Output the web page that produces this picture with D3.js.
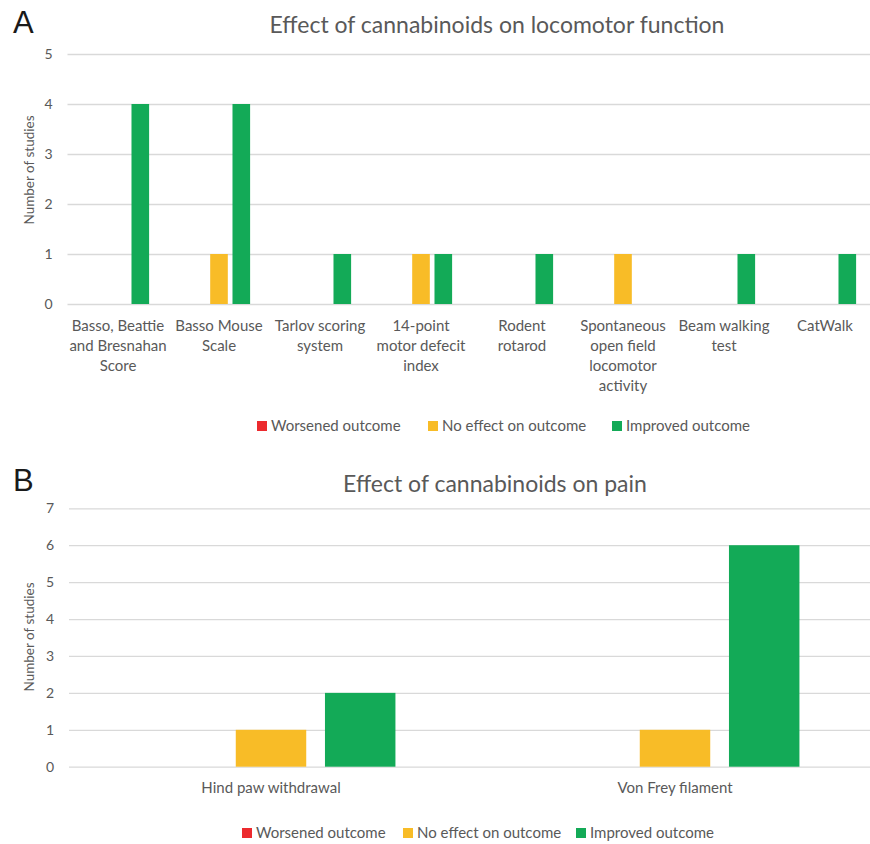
<!DOCTYPE html>
<html>
<head>
<meta charset="utf-8">
<script src="https://cdn.jsdelivr.net/npm/d3@7/dist/d3.min.js"></script>
<style>
  html, body { margin: 0; padding: 0; background: #fff; }
  svg { display: block; }
  .txt { font-family: Lato, "Open Sans", sans-serif; fill: #595959; }
</style>
</head>
<body>
<svg id="fig" width="870" height="844"></svg>
<script>
// Outcome series shared by both panels
const seriesNames = ["Worsened outcome", "No effect on outcome", "Improved outcome"];
const seriesColors = ["#EC2A2E", "#F8BC27", "#13AA57"];

// Panel A: locomotor function
const locoCategories = [
  "Basso, Beattie and Bresnahan Score", "Basso Mouse Scale", "Tarlov scoring system",
  "14-point motor defecit index", "Rodent rotarod",
  "Spontaneous open field locomotor activity", "Beam walking test", "CatWalk"
];
const locoTickLines = [
  ["Basso, Beattie", "and Bresnahan", "Score"], ["Basso Mouse", "Scale"],
  ["Tarlov scoring", "system"], ["14-point", "motor defecit", "index"],
  ["Rodent", "rotarod"], ["Spontaneous", "open field", "locomotor", "activity"],
  ["Beam walking", "test"], ["CatWalk"]
];
const locoWorsened = [0, 0, 0, 0, 0, 0, 0, 0];
const locoNoEffect = [0, 1, 0, 1, 0, 1, 0, 0];
const locoImproved = [4, 4, 1, 1, 1, 0, 1, 1];
const locoYTicks = [0, 1, 2, 3, 4, 5];

// Panel B: pain
const painCategories = ["Hind paw withdrawal", "Von Frey filament"];
const painTickLines = [["Hind paw withdrawal"], ["Von Frey filament"]];
const painWorsened = [0, 0];
const painNoEffect = [1, 1];
const painImproved = [2, 6];
const painYTicks = [0, 1, 2, 3, 4, 5, 6, 7];

const svg = d3.select("#fig");

function panel(cfg) {
  const g = svg.append("g");
  const x = d3.scaleBand().domain(cfg.categories).range([cfg.left, cfg.right])
    .paddingInner(0.384).paddingOuter(0.192);
  const xs = d3.scaleBand().domain(seriesNames).range([0, x.bandwidth()])
    .paddingInner(0.21).paddingOuter(0);
  const y = d3.scaleLinear().domain([0, cfg.yMax]).range([cfg.bottom, cfg.top]);

  // panel letter
  g.append("text").attr("x", cfg.letterX).attr("y", cfg.letterY)
    .style("font-family", "'Liberation Sans', Arial, sans-serif")
    .style("font-size", "31px").style("fill", "#1a1a1a").text(cfg.letter);

  // title
  g.append("text").attr("class", "txt").attr("x", cfg.titleX).attr("y", cfg.titleY)
    .attr("text-anchor", "middle").style("font-size", "23px").text(cfg.title);

  // gridlines + y labels
  const yAxis = d3.axisLeft(y).tickValues(cfg.yTicks).tickSize(-(cfg.right - cfg.left))
    .tickPadding(15).tickFormat(d3.format("d"));
  const ya = g.append("g").attr("transform", `translate(${cfg.left},0)`).call(yAxis);
  ya.select(".domain").remove();
  ya.selectAll(".tick line").attr("stroke", "#d9d9d9").attr("stroke-width", 1.3);
  ya.selectAll(".tick text").attr("class", "txt").style("font-size", "14px").attr("font-family", null);

  // y title
  g.append("text").attr("class", "txt")
    .attr("transform", `translate(${cfg.yTitleX},${cfg.yTitleY}) rotate(-90)`)
    .attr("text-anchor", "middle").style("font-size", "13.5px").text("Number of studies");

  // bars
  const rows = cfg.categories.map((c, i) => ({
    cat: c, vals: [cfg.worsened[i], cfg.noEffect[i], cfg.improved[i]]
  }));
  const grp = g.selectAll(".cat").data(rows).enter().append("g")
    .attr("transform", d => `translate(${x(d.cat)},0)`);
  grp.selectAll("rect").data(d => d.vals.map((v, k) => ({ s: seriesNames[k], v, k })))
    .enter().append("rect")
    .attr("x", d => xs(d.s)).attr("width", xs.bandwidth())
    .attr("y", d => y(d.v)).attr("height", d => y(0) - y(d.v))
    .attr("fill", d => seriesColors[d.k]);

  // x labels
  const xl = g.selectAll(".xl").data(cfg.categories).enter().append("text")
    .attr("class", "txt").attr("text-anchor", "middle").style("font-size", "15px")
    .attr("x", d => x(d) + x.bandwidth() / 2).attr("y", cfg.xLabelY);
  xl.each(function (d, i) {
    d3.select(this).selectAll("tspan").data(cfg.tickLines[i]).enter().append("tspan")
      .attr("x", x(d) + x.bandwidth() / 2).attr("dy", (t, j) => j === 0 ? 0 : 20).text(t => t);
  });

  // legend
  const lg = g.append("g");
  seriesNames.forEach((s, k) => {
    lg.append("rect").attr("x", cfg.legendX[k]).attr("y", cfg.legendY - 10)
      .attr("width", 10).attr("height", 10).attr("fill", seriesColors[k]);
    lg.append("text").attr("class", "txt").attr("x", cfg.legendX[k] + 14).attr("y", cfg.legendY)
      .style("font-size", "15px").text(s);
  });
}

panel({
  letter: "A", letterX: 13, letterY: 33,
  title: "Effect of cannabinoids on locomotor function", titleX: 497, titleY: 33,
  categories: locoCategories, tickLines: locoTickLines,
  worsened: locoWorsened, noEffect: locoNoEffect, improved: locoImproved,
  yMax: 5, yTicks: locoYTicks, top: 54, bottom: 304, left: 67.5, right: 875.5,
  yTitleX: 34, yTitleY: 170, xLabelY: 331, legendX: [257, 428, 612], legendY: 431
});

panel({
  letter: "B", letterX: 13, letterY: 491,
  title: "Effect of cannabinoids on pain", titleX: 495, titleY: 492,
  categories: painCategories, tickLines: painTickLines,
  worsened: painWorsened, noEffect: painNoEffect, improved: painImproved,
  yMax: 7, yTicks: painYTicks, top: 508.3, bottom: 766.7, left: 69, right: 877,
  yTitleX: 34, yTitleY: 637, xLabelY: 793, legendX: [242, 403, 576], legendY: 838
});
</script>
</body>
</html>
